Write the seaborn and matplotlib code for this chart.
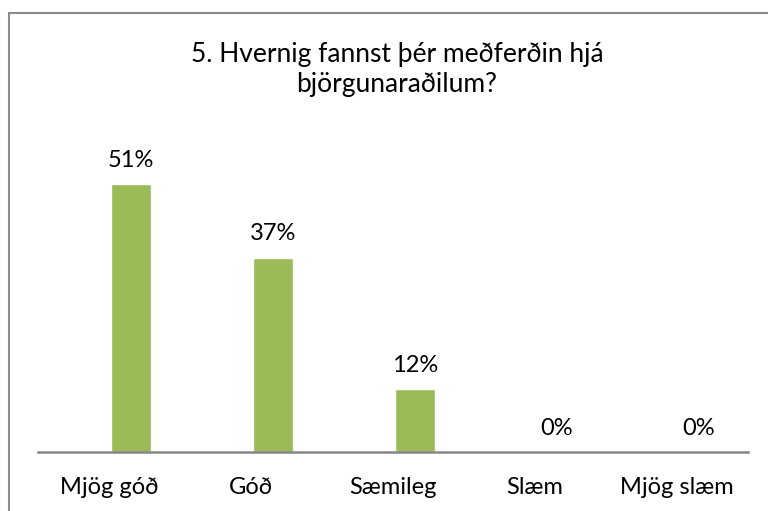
import matplotlib.pyplot as plt
import seaborn as sns
import pandas as pd
from matplotlib.lines import Line2D

categories = ['Mjög góð', 'Góð', 'Sæmileg', 'Slæm', 'Mjög slæm']
values = [51, 37, 12, 0, 0]
title_lines = ['5. Hvernig fannst þér meðferðin hjá', 'björgunaraðilum?']

sns.set_style('white')
plt.rcParams['font.family'] = ['Lato', 'DejaVu Sans']

W, H = 768, 511
fig = plt.figure(figsize=(W / 100, H / 100), dpi=100)
ax = fig.add_axes([38 / W, 59 / H, 710 / W, 315 / H])

df = pd.DataFrame({'cat': categories, 'val': values})
sns.barplot(data=df, x='cat', y='val', color='#9BBB59', saturation=1,
            width=0.28, ax=ax)

# bars sit right of the category centre (as in the Excel original)
shift = 0.155
for p in ax.patches:
    p.set_x(p.get_x() + shift)

ax.set_xlim(-0.5, 4.5)
ax.set_ylim(0, 60)
for s in ['top', 'left', 'right']:
    ax.spines[s].set_visible(False)
ax.spines['bottom'].set_color('#868686')
ax.spines['bottom'].set_linewidth(1.8)
ax.set_yticks([])
ax.set_xlabel('')
ax.set_ylabel('')
ax.tick_params(axis='x', length=0, pad=18, labelsize=17, colors='black')

for i, v in enumerate(values):
    ax.annotate(f'{v}%', (i + shift, v), xytext=(0, 12.5),
                textcoords='offset points', ha='center', va='baseline',
                fontsize=17, color='black')

# title
fig.text(397 / W, 1 - 62 / H, title_lines[0], ha='center', va='baseline',
         fontsize=19, color='black')
fig.text(397 / W, 1 - 92 / H, title_lines[1], ha='center', va='baseline',
         fontsize=19, color='black')

# chart border
fig.add_artist(Line2D([9 / W, 9 / W], [0, 1 - 13 / H], color='#8c8c8c', lw=1.5))
fig.add_artist(Line2D([9 / W, 1], [1 - 13 / H, 1 - 13 / H], color='#8c8c8c', lw=1.5))

fig.savefig('out.png', dpi=100)
